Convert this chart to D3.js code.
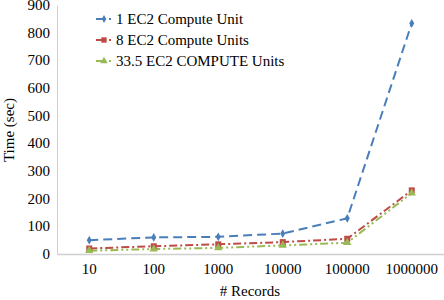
<!DOCTYPE html>
<html><head><meta charset="utf-8">
<script src="https://cdn.jsdelivr.net/npm/d3@7"></script>
</head><body style="margin:0;background:#fff"><svg id="c" width="444" height="300" style="display:block"></svg>
<script>
const categories = ["10","100","1000","10000","100000","1000000"];
const seriesNames = ["1 EC2 Compute Unit","8 EC2 Compute Units","33.5 EC2 COMPUTE Units"];
const s1 = [50, 60, 62, 74, 129, 834];
const s2 = [20, 28, 35, 43, 55, 230];
const s3 = [12, 18, 22, 31, 41, 220];
const yTicks = [0,100,200,300,400,500,600,700,800,900];

const svg = d3.select("#c");
const m = {l:57, r:444, t:5, b:254};
const x = d3.scaleBand().domain(categories).range([m.l, m.r]);
const y = d3.scaleLinear().domain([0,900]).range([m.b, m.t]);
const k = 15/18;

function label(px, py, txt, anchor, rot) {
  const g = svg.append("g").attr("transform",`translate(${px},${py})${rot?` rotate(${rot})`:""} scale(${k})`);
  g.append("text").attr("x",0).attr("y",0).attr("text-anchor",anchor||"start")
    .attr("font-family","Liberation Serif").attr("font-size",18)
    .style("font-family","'Liberation Serif'").style("font-size","18px").attr("fill","#000")
    .text(txt);
  return g;
}

// axes lines (labels drawn separately)
const ya = svg.append("g").attr("transform",`translate(${m.l},0)`)
  .call(d3.axisLeft(y).tickValues(yTicks).tickSize(0).tickFormat(""));
ya.select(".domain").attr("stroke","#d0d0d0");
const xa = svg.append("g").attr("transform",`translate(0,${m.b})`)
  .call(d3.axisBottom(x).tickSize(0).tickFormat(""));
xa.select(".domain").attr("stroke","#d0d0d0").attr("stroke-width",1.5);

yTicks.forEach(v => label(50, y(v)+5, String(v), "end"));
const cx = d => x(d) + x.bandwidth()/2;
categories.forEach(c => label(cx(c), 274, c, "middle"));

label(250, 296, "# Records", "middle");
label(14, 130, "Time (sec)", "middle", -90);

const series = [
  {name:seriesNames[0], vals:s1, color:"#4a7ebb", dash:"9,5", mk:"diamond"},
  {name:seriesNames[1], vals:s2, color:"#be4b48", dash:"8,3,2,3", mk:"square"},
  {name:seriesNames[2], vals:s3, color:"#98b954", dash:"8,3,2,3,2,3", mk:"triangle"}
];
const line = d3.line().x((d,i)=>cx(categories[i])).y(d=>y(d));
const symType = {diamond:d3.symbolDiamond, square:d3.symbolSquare, triangle:d3.symbolTriangle};
const symSize = {diamond:22, square:36, triangle:30};

series.forEach(s=>{
  svg.append("path").datum(s.vals).attr("d",line).attr("fill","none")
    .attr("stroke",s.color).attr("stroke-width",2).attr("stroke-dasharray",s.dash);
});
series.forEach(s=>{
  svg.append("g").selectAll("path").data(s.vals).join("path")
    .attr("transform",(d,i)=>`translate(${cx(categories[i])},${y(d)})`)
    .attr("d",d3.symbol().type(symType[s.mk]).size(symSize[s.mk]))
    .attr("fill",s.color);
});

// legend
series.forEach((s,i)=>{
  const yy = 19 + i*21;
  svg.append("line").attr("x1",96).attr("x2",112).attr("y1",yy).attr("y2",yy)
    .attr("stroke",s.color).attr("stroke-width",2).attr("stroke-dasharray","10,3,2,3");
  svg.append("path").attr("transform",`translate(104,${yy})`)
    .attr("d",d3.symbol().type(symType[s.mk]).size(symSize[s.mk]*0.8)).attr("fill",s.color);
  label(116, yy+5, s.name, "start");
});
</script></body></html>
